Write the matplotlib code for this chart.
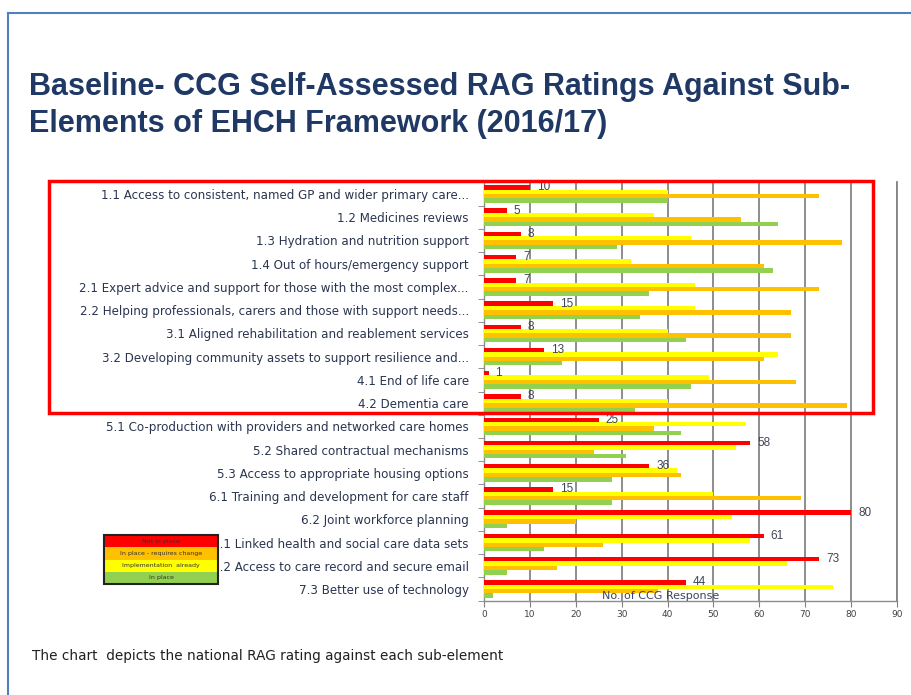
import matplotlib
matplotlib.use("Agg")
import matplotlib.pyplot as plt
from matplotlib.patches import Rectangle
from matplotlib.lines import Line2D
import numpy as np

categories = [
    "1.1 Access to consistent, named GP and wider primary care...",
    "1.2 Medicines reviews",
    "1.3 Hydration and nutrition support",
    "1.4 Out of hours/emergency support",
    "2.1 Expert advice and support for those with the most complex...",
    "2.2 Helping professionals, carers and those with support needs...",
    "3.1 Aligned rehabilitation and reablement services",
    "3.2 Developing community assets to support resilience and...",
    "4.1 End of life care",
    "4.2 Dementia care",
    "5.1 Co-production with providers and networked care homes",
    "5.2 Shared contractual mechanisms",
    "5.3 Access to appropriate housing options",
    "6.1 Training and development for care staff",
    "6.2 Joint workforce planning",
    "7.1 Linked health and social care data sets",
    "7.2 Access to care record and secure email",
    "7.3 Better use of technology",
]
not_in_place = [10, 5, 8, 7, 7, 15, 8, 13, 1, 8, 25, 58, 36, 15, 80, 61, 73, 44]
implementation_already = [40, 37, 45, 32, 46, 46, 40, 64, 49, 40, 57, 55, 42, 50, 54, 58, 66, 76]
requires_change = [73, 56, 78, 61, 73, 67, 67, 61, 68, 79, 37, 24, 43, 69, 20, 26, 16, 38]
in_place = [40, 64, 29, 63, 36, 34, 44, 17, 45, 33, 43, 31, 28, 28, 5, 13, 5, 2]

legend_labels = ["Not in place", "In place - requires change", "Implementation  already", "In place"]
x_ticks = [0, 10, 20, 30, 40, 50, 60, 70, 80, 90]

RED, ORANGE, YELLOW, GREEN = "#FF0000", "#FFC000", "#FFFF00", "#92D050"
NAVY = "#1F3864"
LABEL_C = "#2A3550"

W, H = 912, 695
fig = plt.figure(figsize=(W / 100, H / 100), dpi=100)
fig.patch.set_facecolor("white")

def fx(px):
    return px / W

def fy(py):
    return 1 - py / H

ax_left, ax_right, ax_top, ax_bot = 484, 897, 182.4, 600.6
ax = fig.add_axes([fx(ax_left), fy(ax_bot), fx(ax_right - ax_left), (ax_bot - ax_top) / H])

n = len(categories)
y = np.arange(n)
h = 0.19
series = [(not_in_place, RED), (implementation_already, YELLOW), (requires_change, ORANGE), (in_place, GREEN)]
offsets = [-1.5, -0.5, 0.5, 1.5]
for (vals, col), off in zip(series, offsets):
    ax.barh(y + off * h, vals, height=h, color=col, edgecolor="none", zorder=3)

for yi, v in zip(y, not_in_place):
    ax.annotate(str(v), xy=(v, yi - 1.5 * h), xytext=(5, 0), textcoords="offset points",
                va="center", ha="left", fontsize=8.5, color="#3F4656",
                family="Liberation Sans", zorder=4)

ax.set_xlim(0, 90)
ax.set_ylim(n - 0.5, -0.5)
ax.set_xticks(x_ticks)
ax.set_xticklabels([str(t) for t in x_ticks], fontsize=6.5, color="#404040", family="Liberation Sans Narrow")
ax.tick_params(axis="x", length=4, color="#808080", pad=3)
ax.set_yticks(y)
ax.set_yticklabels(categories, fontsize=8.6, color=LABEL_C, family="Liberation Sans Narrow")
ax.tick_params(axis="y", length=0, pad=11)
ax.set_yticks(np.arange(n + 1) - 0.5, minor=True)
ax.tick_params(axis="y", which="minor", length=4, color="#808080")

ax.grid(axis="x", color="#858585", linewidth=1.3, zorder=0)
ax.set_axisbelow(True)
for s in ["top", "right"]:
    ax.spines[s].set_visible(False)
for s in ["left", "bottom"]:
    ax.spines[s].set_color("#8C8C8C")
    ax.spines[s].set_linewidth(1.0)
ax.axvline(90, color="#858585", linewidth=1.3, clip_on=False, zorder=0)

ax.text(38.5, n - 0.5, "No. of CCG Response", ha="center", va="bottom", fontsize=8,
        color="#3A4660", family="Liberation Sans Narrow", zorder=5)

# Title
fig.text(fx(29), fy(95), "Baseline- CCG Self-Assessed RAG Ratings Against Sub-",
         fontsize=22, fontweight="bold", color=NAVY, family="Liberation Sans", va="baseline")
fig.text(fx(29), fy(132), "Elements of EHCH Framework (2016/17)",
         fontsize=22, fontweight="bold", color=NAVY, family="Liberation Sans", va="baseline")

# Footer
fig.text(fx(32), fy(656), "The chart  depicts the national RAG rating against each sub-element",
         fontsize=9.8, color="#202020", family="Liberation Sans Narrow", va="center")

# Blue frame
fig.add_artist(Line2D([fx(8), fx(8)], [fy(13), 0], color="#4F81BD", linewidth=1.5))
fig.add_artist(Line2D([fx(8), 1], [fy(13), fy(13)], color="#4F81BD", linewidth=1.5))

# Red highlight rectangle
fig.add_artist(Rectangle((fx(49), fy(413)), fx(873 - 49), (413 - 181) / H,
                         fill=False, edgecolor=RED, linewidth=2.5, zorder=10))

# Legend box
lx0, lx1, ly0, ly1 = 104, 218, 535, 584
leg_colors = [RED, ORANGE, YELLOW, GREEN]
rh = (ly1 - ly0) / 4
for i, (lab, col) in enumerate(zip(legend_labels, leg_colors)):
    top = ly0 + i * rh
    fig.add_artist(Rectangle((fx(lx0), fy(top + rh)), fx(lx1 - lx0), rh / H,
                             facecolor=col, edgecolor="none", zorder=11))
    fig.text(fx((lx0 + lx1) / 2), fy(top + rh / 2), lab, ha="center", va="center",
             fontsize=4.5, color="#333333", family="Liberation Sans Narrow", zorder=12)
fig.add_artist(Rectangle((fx(lx0), fy(ly1)), fx(lx1 - lx0), (ly1 - ly0) / H,
                         fill=False, edgecolor="#222222", linewidth=1.5, zorder=13))

fig.savefig("out.png", dpi=100, facecolor="white")
